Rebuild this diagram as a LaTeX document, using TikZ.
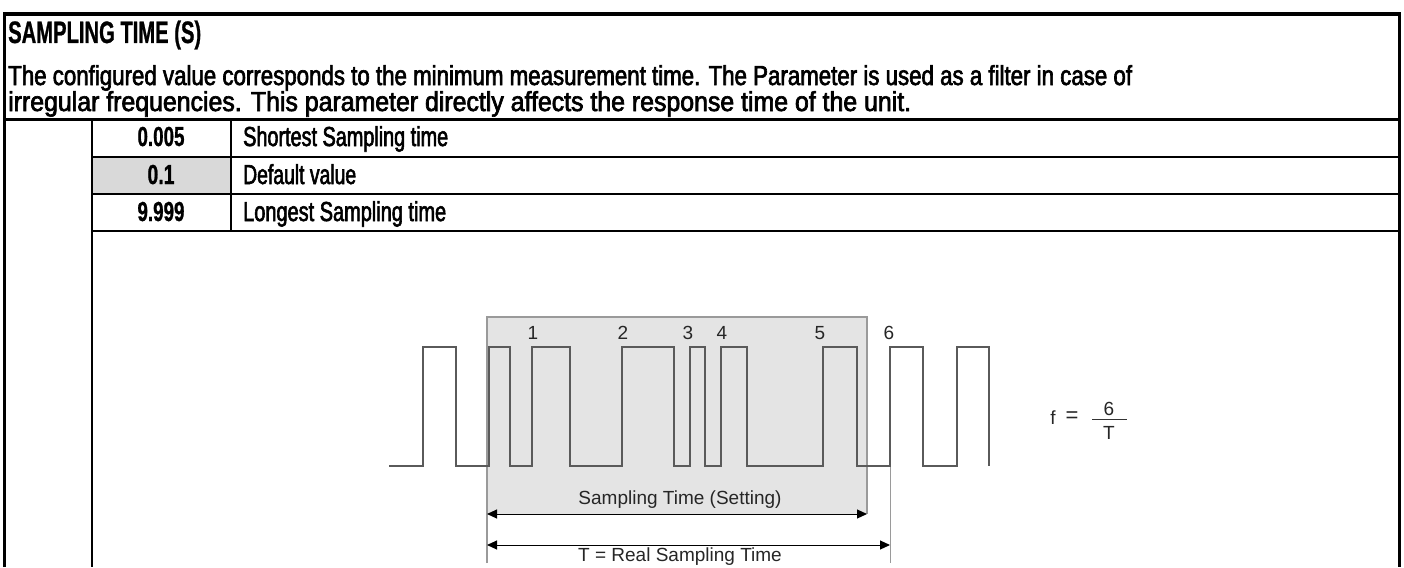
\documentclass[tikz,border=0pt]{standalone}
\usepackage{fontspec}
\usepackage{graphicx}
\setmainfont{Liberation Sans}
\newfontfamily\titlefont[FakeStretch=0.70,FakeBold=0.8]{Liberation Sans}
\newfontfamily\bodyfont[FakeStretch=0.77,FakeBold=2.2]{Liberation Sans}
\newfontfamily\figfont{Liberation Sans}
\usetikzlibrary{arrows.meta}
\definecolor{cellgray}{HTML}{D9D9D9}
\definecolor{boxgray}{HTML}{E4E4E4}
\definecolor{edgegray}{HTML}{9A9A9A}
\definecolor{wavegray}{HTML}{5A5A5A}
\begin{document}
\begin{tikzpicture}[x=1pt,y=-1pt,
  frame/.style={line width=3.2pt,black},
  rule/.style={line width=2pt,black},
  wave/.style={line width=1.1pt,wavegray,line join=miter},
  boxedge/.style={line width=1.1pt,edgegray},
  dimline/.style={line width=1pt,black,{Triangle[length=10pt,width=9pt]}-{Triangle[length=10pt,width=9pt]}},
  titletxt/.style={inner sep=0pt,anchor=base west,font=\titlefont\bfseries\fontsize{31}{33}\selectfont},
  bodytxt/.style={inner sep=0pt,anchor=base west,font=\bodyfont\fontsize{27.5}{30}\selectfont},
  numtxt/.style={inner sep=0pt,anchor=base,font=\titlefont\bfseries\fontsize{27.5}{30}\selectfont},
  figtxt/.style={inner sep=0pt,font=\figfont\fontsize{19}{22}\selectfont,text=black!85}
]
\useasboundingbox (0,0) rectangle (1404,567);
\fill[white] (0,0) rectangle (1404,567);

% shaded cell
\fill[cellgray] (92,156.5) rectangle (231,194);

% frame and table rules
\draw[frame] (4.5,567) -- (4.5,14) -- (1399.5,14) -- (1399.5,567);
\draw[frame] (4.5,119.5) -- (1399.5,119.5);
\draw[rule] (92,119.5) -- (92,567);
\draw[rule] (231,119.5) -- (231,231);
\draw[rule] (92,156.5) -- (1399.5,156.5);
\draw[rule] (92,194) -- (1399.5,194);
\draw[rule] (92,231) -- (1399.5,231);

% header texts
\node[titletxt] (title) at (8,43) {\resizebox{193pt}{\height}{SAMPLING TIME (S)}};
\node[bodytxt] (l1) at (8,85) {\resizebox{1124pt}{\height}{The configured value corresponds to the minimum measurement time. The Parameter is used as a filter in case of}};
\node[bodytxt] (l2) at (8,111) {\resizebox{903pt}{\height}{irregular frequencies. This parameter directly affects the response time of the unit.}};

% table texts
\node[numtxt] (v1) at (161,146) {\resizebox{47pt}{\height}{0.005}};
\node[numtxt] (v2) at (161,184) {\resizebox{27pt}{\height}{0.1}};
\node[numtxt] (v3) at (161,221) {\resizebox{47pt}{\height}{9.999}};
\node[bodytxt] (d1) at (243,146) {\resizebox{205pt}{\height}{Shortest Sampling time}};
\node[bodytxt] (d2) at (243,184) {\resizebox{113pt}{\height}{Default value}};
\node[bodytxt] (d3) at (243,221) {\resizebox{203pt}{\height}{Longest Sampling time}};

% sampling window
\fill[boxgray] (487,317) rectangle (867,514);
\draw[boxedge] (487,563) -- (487,317) -- (867,317) -- (867,514);
\draw[line width=1pt,edgegray] (890,466) -- (890,563);

% waveform
\draw[wave] (389,466) -- (423,466) -- (423,347) -- (456,347) -- (456,466)
  -- (489,466) -- (489,347) -- (510,347) -- (510,466)
  -- (532,466) -- (532,347) -- (570,347) -- (570,466)
  -- (622,466) -- (622,347) -- (674,347) -- (674,466)
  -- (690,466) -- (690,347) -- (705,347) -- (705,466)
  -- (721,466) -- (721,347) -- (747,347) -- (747,466)
  -- (823,466) -- (823,347) -- (857,347) -- (857,466)
  -- (890,466) -- (890,347) -- (923,347) -- (923,466)
  -- (957,466) -- (957,347) -- (989,347) -- (989,466);

% pulse numbers
\node[figtxt] (n1) at (533,333) {1};
\node[figtxt] (n2) at (623,333) {2};
\node[figtxt] (n3) at (688,333) {3};
\node[figtxt] (n4) at (722,333) {4};
\node[figtxt] (n5) at (820,333) {5};
\node[figtxt] (n6) at (889,333) {6};

% dimension arrows
\coordinate (sa) at (487,514);
\coordinate (sb) at (867,514);
\coordinate (ta) at (487,545);
\coordinate (tb) at (890,545);
\draw[dimline] (sa) -- (sb);
\draw[dimline] (ta) -- (tb);
\node[figtxt] (stxt) at (680,500) {Sampling Time (Setting)};
\node[figtxt] (ttxt) at (680,557) {T = Real Sampling Time};

% formula
\node[figtxt] (ff) at (1053,418) {f};
\node[figtxt,font=\figfont\fontsize{22}{24}\selectfont] (feq) at (1072,417) {=};
\draw[line width=0.8pt,black!80] (1092,419) -- (1127,419);
\node[figtxt] (fnum) at (1109,409) {6};
\node[figtxt] (fden) at (1109,433) {T};
\end{tikzpicture}
\end{document}
